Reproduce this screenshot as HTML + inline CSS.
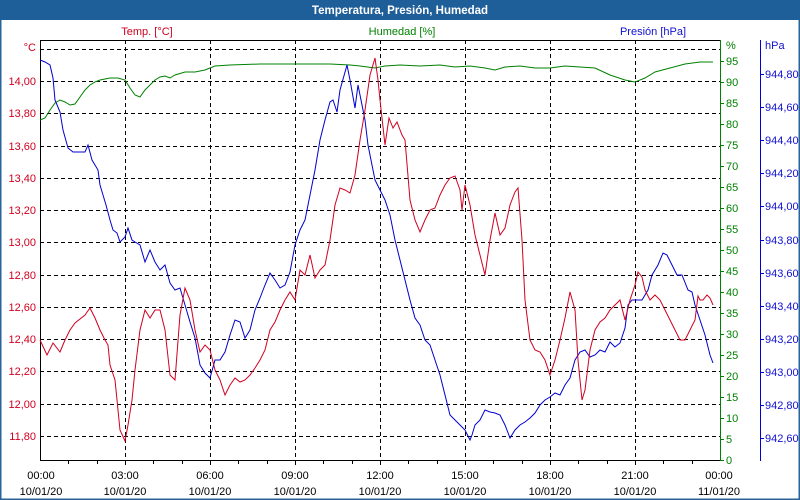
<!DOCTYPE html>
<html><head><meta charset="utf-8"><style>
html,body{margin:0;padding:0;background:#fff;}
svg{display:block;font-family:"Liberation Sans",sans-serif;font-size:11px;}
</style></head><body>
<svg width="800" height="500" viewBox="0 0 800 500" xmlns="http://www.w3.org/2000/svg">
<rect x="0" y="0" width="800" height="500" fill="#fff"/>
<rect x="0.5" y="0.5" width="799" height="499" fill="none" stroke="#2a639b" stroke-width="2"/>
<rect x="0" y="0" width="800" height="20" fill="#1f5f99"/>
<text x="400" y="14" fill="#fff" font-weight="bold" text-anchor="middle" font-size="11.5">Temperatura, Presión, Humedad</text>
<text x="147" y="35" fill="#d00020" text-anchor="middle">Temp. [°C]</text>
<text x="402" y="35" fill="#008000" text-anchor="middle">Humedad [%]</text>
<text x="653" y="35" fill="#1010d0" text-anchor="middle">Presión [hPa]</text>
<!-- grid -->
<g stroke="#000" stroke-dasharray="4,3" stroke-width="1">
<path d="M40 49.5H720M40 81.5H720M40 113.5H720M40 146.5H720M40 178.5H720M40 210.5H720M40 242.5H720M40 275.5H720M40 307.5H720M40 339.5H720M40 371.5H720M40 404.5H720M40 436.5H720"/>
<path d="M125.5 40V460M210.5 40V460M295.5 40V460M380.5 40V460M465.5 40V460M550.5 40V460M635.5 40V460"/>
</g>
<path d="M40.5 40V460.5H720M40 40.5H720" stroke="#000" fill="none"/>
<g stroke="#000"><path d="M68.5 461v3M97.5 461v3M125.5 461v4M153.5 461v3M182.5 461v3M210.5 461v4M238.5 461v3M267.5 461v3M295.5 461v4M323.5 461v3M352.5 461v3M380.5 461v4M408.5 461v3M437.5 461v3M465.5 461v4M493.5 461v3M522.5 461v3M550.5 461v4M578.5 461v3M607.5 461v3M635.5 461v4M663.5 461v3M692.5 461v3"/></g>
<path d="M720.5 40V461" stroke="#008000"/>
<path d="M760.5 40V461" stroke="#0000d0"/>
<!-- left labels -->
<g fill="#d00020" text-anchor="end">
<text x="36" y="51">°C</text>
<text x="36" y="85">14,00</text><text x="36" y="117">13,80</text><text x="36" y="150">13,60</text><text x="36" y="182">13,40</text><text x="36" y="214">13,20</text><text x="36" y="246">13,00</text><text x="36" y="279">12,80</text><text x="36" y="311">12,60</text><text x="36" y="343">12,40</text><text x="36" y="375">12,20</text><text x="36" y="408">12,00</text><text x="36" y="440">11,80</text>
</g>
<!-- humidity -->
<g stroke="#008000"><path d="M720 460.5h4M720 439.5h4M720 418.5h4M720 397.5h4M720 376.5h4M720 355.5h4M720 334.5h4M720 313.5h4M720 292.5h4M720 271.5h4M720 250.5h4M720 229.5h4M720 208.5h4M720 187.5h4M720 166.5h4M720 145.5h4M720 124.5h4M720 103.5h4M720 82.5h4M720 61.5h4"/></g>
<g fill="#008000">
<text x="726" y="49">%</text>
<text x="726" y="464">0</text><text x="726" y="443">5</text><text x="726" y="422">10</text><text x="726" y="401">15</text><text x="726" y="380">20</text><text x="726" y="359">25</text><text x="726" y="338">30</text><text x="726" y="317">35</text><text x="726" y="296">40</text><text x="726" y="275">45</text><text x="726" y="254">50</text><text x="726" y="233">55</text><text x="726" y="212">60</text><text x="726" y="191">65</text><text x="726" y="170">70</text><text x="726" y="149">75</text><text x="726" y="128">80</text><text x="726" y="107">85</text><text x="726" y="86">90</text><text x="726" y="65">95</text>
</g>
<!-- pressure -->
<g stroke="#0000d0"><path d="M760 74.5h4M760 107.5h4M760 140.5h4M760 173.5h4M760 206.5h4M760 240.5h4M760 273.5h4M760 306.5h4M760 339.5h4M760 372.5h4M760 405.5h4M760 438.5h4"/></g>
<g fill="#1010d0">
<text x="765" y="49">hPa</text>
<text x="765" y="78">944,80</text><text x="765" y="111">944,60</text><text x="765" y="144">944,40</text><text x="765" y="177">944,20</text><text x="765" y="210">944,00</text><text x="765" y="244">943,80</text><text x="765" y="277">943,60</text><text x="765" y="310">943,40</text><text x="765" y="343">943,20</text><text x="765" y="376">943,00</text><text x="765" y="409">942,80</text><text x="765" y="442">942,60</text>
</g>
<!-- x labels -->
<g fill="#000" text-anchor="middle">
<text x="41" y="479">00:00</text><text x="41" y="495">10/01/20</text>
<text x="125" y="479">03:00</text><text x="125" y="495">10/01/20</text>
<text x="210" y="479">06:00</text><text x="210" y="495">10/01/20</text>
<text x="295" y="479">09:00</text><text x="295" y="495">10/01/20</text>
<text x="380" y="479">12:00</text><text x="380" y="495">10/01/20</text>
<text x="465" y="479">15:00</text><text x="465" y="495">10/01/20</text>
<text x="550" y="479">18:00</text><text x="550" y="495">10/01/20</text>
<text x="635" y="479">21:00</text><text x="635" y="495">10/01/20</text>
<text x="719" y="479">00:00</text><text x="719" y="495">11/01/20</text>
</g>
<!-- humidity series -->
<polyline fill="none" stroke="#008000" stroke-width="1" points="40,120 45,118 50,110 55,103 60,100 65,102 70,105 75,104 80,97 85,90 90,85 95,82 100,80 110,78 118,78 125,80 130,88 135,95 140,97 145,90 150,85 155,80 160,77 165,76 170,78 175,75 185,72 195,72 205,70 215,66 230,65 260,64 300,64 330,64 350,65 360,66 375,68 385,66 400,65 420,66 440,65 455,67 470,66 485,68 495,70 505,67 520,66 535,68 550,68 565,66 580,67 595,68 610,75 625,80 635,82 645,78 655,72 670,68 685,64 700,62 713,62"/>
<!-- pressure series -->
<polyline fill="none" stroke="#0000d0" stroke-width="1" points="40,60 45,62 50,65 53,78 55,100 60,112 63,130 68,148 73,152 80,152 85,152 88,145 92,160 95,165 98,170 100,185 103,195 106,205 110,220 113,230 117,233 120,242 125,237 128,228 132,240 135,242 140,245 145,262 150,250 155,262 160,270 165,265 170,283 175,290 180,288 185,305 190,322 195,338 200,365 205,373 210,378 215,360 220,360 225,352 230,335 235,320 240,322 245,338 250,330 255,310 260,298 265,285 270,273 275,280 280,288 285,285 290,272 295,245 300,230 305,220 310,195 315,170 320,140 325,120 330,102 333,100 337,112 340,90 347,65 350,80 355,108 358,85 362,105 365,120 368,145 372,165 375,180 380,190 385,200 390,215 395,240 400,260 405,280 410,300 415,318 420,325 425,340 430,345 435,360 440,375 445,395 450,415 455,420 460,425 465,430 470,440 472,435 475,425 480,420 485,410 490,412 495,413 500,415 505,425 510,438 515,430 520,425 525,422 530,418 535,413 540,405 545,400 550,397 555,393 560,395 565,385 570,378 575,360 580,352 585,350 590,357 595,355 600,350 605,352 610,342 615,347 620,343 625,328 628,305 632,300 638,300 642,300 648,290 652,275 658,265 663,253 667,255 672,265 677,275 682,275 688,290 692,292 695,305 700,320 705,335 710,355 713,363"/>
<!-- temp series -->
<polyline fill="none" stroke="#d00020" stroke-width="1" points="40,340 47,355 53,343 60,352 65,340 70,330 75,323 85,315 90,308 95,318 100,330 105,340 108,345 110,365 115,380 120,430 125,441 128,425 132,400 135,370 140,330 145,310 150,318 155,310 160,310 165,330 170,375 175,380 180,315 185,288 190,300 195,330 200,352 205,345 210,350 215,370 220,380 225,395 230,385 235,378 240,382 245,380 250,375 255,368 260,360 265,350 270,330 275,322 280,310 285,300 290,292 295,300 300,270 305,275 310,255 315,278 320,270 325,265 330,240 335,205 340,188 345,190 350,193 355,175 360,140 365,110 370,75 375,58 378,80 380,100 385,145 389,118 393,128 397,122 402,135 405,140 410,200 415,220 420,232 425,220 430,210 435,208 440,195 445,185 450,178 455,176 460,190 462,210 465,185 470,205 475,235 480,255 485,275 490,240 495,213 500,235 505,228 510,205 515,192 518,188 522,240 525,300 530,340 535,350 540,352 545,360 550,375 555,360 560,340 565,318 570,292 575,310 578,360 582,400 585,390 590,350 595,330 600,322 605,318 610,310 615,305 620,300 625,320 630,300 635,285 638,272 642,277 645,290 650,300 655,295 660,300 665,310 670,320 675,330 680,340 685,340 690,330 695,320 698,296 700,300 703,300 707,295 710,298 713,305"/>
</svg>
</body></html>
